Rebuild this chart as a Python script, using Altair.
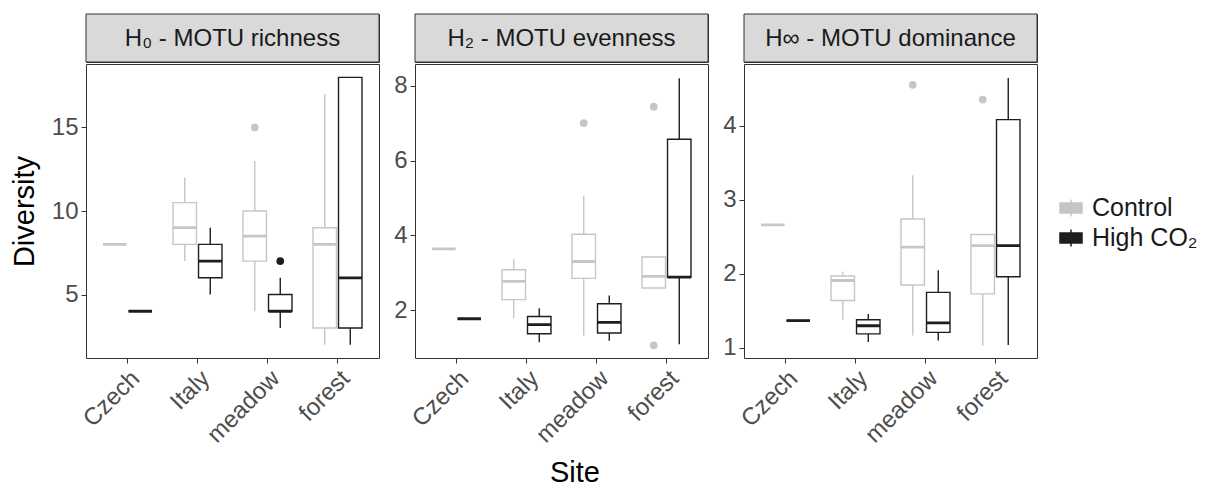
import altair as alt
import pandas as pd

sites = ["Czech", "Italy", "meadow", "forest"]
treatments = ["Control", "High CO₂"]
metrics = ["H₀ - MOTU richness", "H₂ - MOTU evenness", "H∞ - MOTU dominance"]
colors = ["#c6c6c6", "#1e1e1e"]

# per site: [lower whisker, q1, median, q3, upper whisker]
rich_ctrl = [[8, 8, 8, 8, 8], [7, 8, 9, 10.5, 12], [4, 7, 8.5, 10, 13], [2, 3, 8, 9, 17]]
rich_high = [[4, 4, 4, 4, 4], [5, 6, 7, 8, 9], [3, 4, 4, 5, 6], [2, 3, 6, 18, 18]]
even_ctrl = [[3.64, 3.64, 3.64, 3.64, 3.64], [1.79, 2.28, 2.77, 3.08, 3.36],
             [1.32, 2.85, 3.30, 4.03, 5.06], [2.59, 2.59, 2.90, 3.42, 3.42]]
even_high = [[1.77, 1.77, 1.77, 1.77, 1.77], [1.14, 1.37, 1.61, 1.83, 2.05],
             [1.18, 1.39, 1.67, 2.17, 2.39], [1.09, 2.88, 2.88, 6.57, 8.20]]
dom_ctrl = [[2.66, 2.66, 2.66, 2.66, 2.66], [1.38, 1.64, 1.91, 1.97, 2.03],
            [1.17, 1.85, 2.36, 2.74, 3.33], [1.03, 1.73, 2.38, 2.53, 2.53]]
dom_high = [[1.37, 1.37, 1.37, 1.37, 1.37], [1.08, 1.19, 1.30, 1.38, 1.46],
            [1.10, 1.21, 1.34, 1.75, 2.05], [1.04, 1.96, 2.38, 4.08, 4.64]]

# outliers: (metric index, site, treatment, value)
outlier_metric = [0, 0, 1, 1, 1, 2, 2]
outlier_site = ["meadow", "meadow", "meadow", "forest", "forest", "meadow", "forest"]
outlier_treat = ["Control", "High CO₂", "Control", "Control", "Control", "Control", "Control"]
outlier_value = [15, 7, 7.0, 7.44, 1.06, 4.55, 4.35]

y_domains = [[1.2, 18.8], [0.72, 8.58], [0.865, 4.83]]
y_ticks = [[5, 10, 15], [2, 4, 6, 8], [1, 2, 3, 4]]

stats = [(rich_ctrl, rich_high), (even_ctrl, even_high), (dom_ctrl, dom_high)]
rows = []
for mi, (ctrl, high) in enumerate(stats):
    for t, arr in zip(treatments, (ctrl, high)):
        for s, v in zip(sites, arr):
            rows.append(dict(metric=metrics[mi], site=s, treatment=t,
                             lo=v[0], q1=v[1], med=v[2], q3=v[3], hi=v[4]))
box_df = pd.DataFrame(rows)
out_df = pd.DataFrame(dict(metric=[metrics[i] for i in outlier_metric], site=outlier_site,
                           treatment=outlier_treat, value=outlier_value))

W, H, SH = 293, 294, 48
legend_path = "M-0.9,-0.4H0.9V0.4H-0.9Z M0,-0.4V-0.7 M0,0.4V0.7 M-0.9,0H0.9"


def panel(i):
    d = box_df[box_df.metric == metrics[i]]
    o = out_df[out_df.metric == metrics[i]]
    x = alt.X("site:N", sort=sites,
              scale=alt.Scale(paddingInner=0.3, paddingOuter=0.243),
              axis=alt.Axis(title="Site" if i == 1 else None, labelAngle=-45,
                            labelAlign="right", labelBaseline="top", titleX=W / 2 + 13,
                            titlePadding=11))
    xo = alt.XOffset("treatment:N", sort=treatments, scale=alt.Scale(paddingInner=0.08))
    ysc = alt.Scale(domain=y_domains[i], nice=False, zero=False)
    yax = alt.Axis(values=y_ticks[i], title="Diversity" if i == 0 else None, titlePadding=12)
    stroke = alt.Stroke("treatment:N", sort=treatments,
                        scale=alt.Scale(domain=treatments, range=colors),
                        legend=alt.Legend(title=None, orient="none", legendX=972, legendY=181,
                                          symbolType=legend_path, symbolSize=600,
                                          symbolStrokeWidth=1.5, symbolFillColor="white",
                                          labelFontSize=25, labelOffset=8,
                                          labelColor="#1a1a1a", labelFont="Liberation Sans",
                                          rowPadding=4))
    base = alt.Chart(d)
    whisk_lo = base.mark_rule(strokeWidth=1.4).encode(
        x=x, xOffset=xo, y=alt.Y("lo:Q", scale=ysc, axis=yax), y2="q1:Q", stroke=stroke)
    whisk_hi = base.mark_rule(strokeWidth=1.4).encode(
        x=x, xOffset=xo, y=alt.Y("q3:Q", scale=ysc, axis=yax), y2="hi:Q", stroke=stroke)
    box = base.mark_bar(fill="white", strokeWidth=1.4).encode(
        x=x, xOffset=xo, y=alt.Y("q1:Q", scale=ysc, axis=yax), y2="q3:Q", stroke=stroke)
    med = base.mark_bar(fill="white", strokeWidth=2.8).encode(
        x=x, xOffset=xo, y=alt.Y("med:Q", scale=ysc, axis=yax), y2="med:Q", stroke=stroke)
    pts = alt.Chart(o).mark_circle(size=60, opacity=1).encode(
        x=x, xOffset=xo, y=alt.Y("value:Q", scale=ysc, axis=yax),
        color=alt.Color("treatment:N", scale=alt.Scale(domain=treatments, range=colors),
                        legend=None))
    plot = (whisk_lo + whisk_hi + box + med + pts).properties(width=W, height=H)

    sd = pd.DataFrame({"t": [metrics[i]]})
    strip_bg = alt.Chart(sd).mark_rect(fill="#d9d9d9", stroke="#333333", strokeWidth=1).encode(
        x=alt.value(0), x2=alt.value(W), y=alt.value(0), y2=alt.value(SH))
    strip_tx = alt.Chart(sd).mark_text(fontSize=24, color="#1a1a1a", font="Liberation Sans").encode(
        x=alt.value(W / 2), y=alt.value(SH / 2 + 1), text="t:N")
    strip = (strip_bg + strip_tx).properties(width=W, height=SH)
    return alt.vconcat(strip, plot, spacing=0)


chart = alt.hconcat(panel(0), panel(1), panel(2), spacing=13).properties(
    padding={"left": 1, "top": 5, "right": 5, "bottom": 0}
).configure(
    background="white"
).configure_view(
    stroke="#333333", strokeWidth=1
).configure_axis(
    labelFont="Liberation Sans", labelFontSize=24, labelColor="#4d4d4d",
    tickColor="#333333", tickSize=5, labelPadding=3, domain=False, grid=False,
    titleFont="Liberation Sans", titleFontSize=29, titleColor="#000000",
    titleFontWeight="normal"
)

chart.save("out.html", embed_options={"renderer": "svg", "actions": False})
